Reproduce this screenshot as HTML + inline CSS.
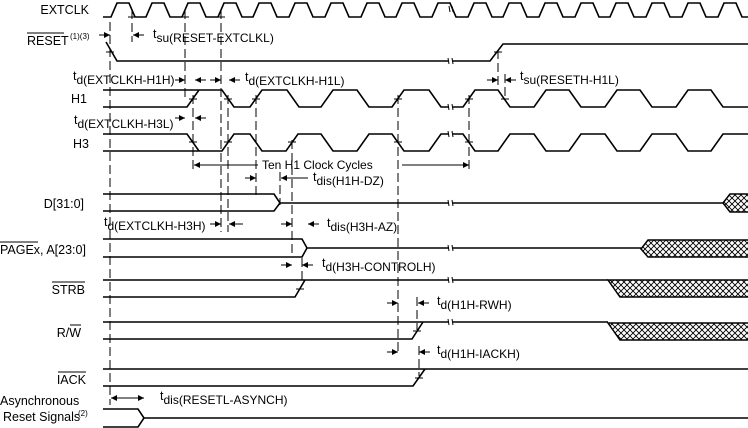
<!DOCTYPE html>
<html><head><meta charset="utf-8"><style>
html,body{margin:0;padding:0;background:#fff;}
svg{display:block;font-family:"Liberation Sans",Arial,sans-serif;}
</style></head><body>
<svg width="748" height="428" viewBox="0 0 748 428" xmlns="http://www.w3.org/2000/svg">
<defs>
<pattern id="hx" width="6" height="6" patternUnits="userSpaceOnUse">
<rect width="6" height="6" fill="#fff"/>
<path d="M0,0 L6,6 M6,0 L0,6" stroke="#000" stroke-width="0.9"/>
</pattern>
<marker id="ah" markerWidth="6" markerHeight="6" refX="6" refY="3" orient="auto" markerUnits="userSpaceOnUse">
<path d="M0,0 L6,3 L0,6 z" fill="#000"/>
</marker>
</defs>

<g stroke="#000" stroke-width="1" stroke-dasharray="9,4" fill="none">
<line x1="110" y1="22" x2="110" y2="405"/>
<line x1="132" y1="10" x2="132" y2="42"/>
<line x1="185" y1="10" x2="185" y2="100"/>
<line x1="193" y1="95" x2="193" y2="172"/>
<line x1="221" y1="10" x2="221" y2="232"/>
<line x1="228" y1="95" x2="228" y2="232"/>
<line x1="256" y1="95" x2="256" y2="198"/>
<line x1="280" y1="172" x2="280" y2="205"/>
<line x1="292" y1="140" x2="292" y2="255"/>
<line x1="302" y1="258" x2="302" y2="280"/>
<line x1="398" y1="95" x2="398" y2="355"/>
<line x1="417" y1="297" x2="417" y2="330"/>
<line x1="419" y1="346" x2="419" y2="376"/>
<line x1="469" y1="95" x2="469" y2="172"/>
<line x1="498" y1="50" x2="498" y2="86"/>
<line x1="505" y1="74" x2="505" y2="100"/>
</g>

<g stroke="#000" stroke-width="1.5">
<polygon points="723,203 730,194 749,194 749,212 730,212" fill="url(#hx)"/>
<polygon points="641,249 648,240 749,240 749,257 648,257" fill="url(#hx)"/>
<polygon points="608,280 749,280 749,297 620,297" fill="url(#hx)"/>
<polygon points="608,323 749,323 749,340 620,340" fill="url(#hx)"/>
</g>

<g stroke="#000" stroke-width="1.6" fill="none" stroke-linejoin="miter">
<path d="M103,17 L111,17 L117,3 L129,3 L135,17 L146,17 L152,3 L164,3 L170,17 L182,17 L188,3 L200,3 L206,17 L218,17 L224,3 L236,3 L242,17 L253,17 L259,3 L271,3 L277,17 L289,17 L295,3 L307,3 L313,17 L325,17 L331,3 L343,3 L349,17 L361,17 L367,3 L379,3 L385,17 L396,17 L402,3 L414,3 L420,17 L432,17 L438,3 L450,3 L456,17 L468,17 L474,3 L486,3 L492,17 L503,17 L509,3 L521,3 L527,17 L539,17 L545,3 L557,3 L563,17 L575,17 L581,3 L593,3 L599,17 L610,17 L616,3 L628,3 L634,17 L646,17 L652,3 L664,3 L670,17 L682,17 L688,3 L700,3 L706,17 L718,17 L724,3 L736,3 L742,17 L748,17"/>
<path d="M106,42 L117,61 L490,61 L503,44 L748,44"/>
<path d="M103,90 L222,90 L234,107 L250,107 L262,90 L287,90 L299,107 L321,107 L333,90 L357,90 L369,107 L392,107 L404,90 L429,90 L441,107 L463,107 L475,90 L498,90 L510,107 L534,107 L546,90 L569,90 L581,107 L605,107 L617,90 L640,90 L652,107 L676,107 L688,90 L711,90 L723,107 L748,107"/>
<path d="M103,107 L187,107 L199,90"/>
<path d="M103,134 L187,134 L199,151"/>
<path d="M103,151 L222,151 L234,134 L250,134 L262,151 L286,151 L298,134 L321,134 L333,151 L357,151 L369,134 L392,134 L404,151 L429,151 L441,134 L463,134 L475,151 L498,151 L510,134 L534,134 L546,151 L569,151 L581,134 L605,134 L617,151 L640,151 L652,134 L676,134 L688,151 L711,151 L723,134 L748,134"/>
<path d="M103,194 L274,194 L280,203 L274,211 L103,211 M280,203 L723,203"/>
<path d="M103,239 L302,239 L307,248 L302,257 L103,257 M307,248 L641,248"/>
<path d="M103,280 L608,280 M103,297 L295,297 L305,280"/>
<path d="M103,322 L608,322 M103,339 L412,339 L423,322"/>
<path d="M103,369 L748,369 M103,386 L413,386 L425,369"/>
<path d="M103,409 L138,409 L144,418 L138,427 L103,427 M144,418 L748,418"/>
</g>

<g stroke="#000" stroke-width="1" fill="none">
<rect x="449" y="56" width="4" height="10" fill="#fff" stroke="none"/>
<rect x="449" y="102" width="4" height="10" fill="#fff" stroke="none"/>
<rect x="449" y="129" width="4" height="10" fill="#fff" stroke="none"/>
<rect x="449" y="198" width="4" height="10" fill="#fff" stroke="none"/>
<rect x="449" y="243" width="4" height="10" fill="#fff" stroke="none"/>
<rect x="449" y="275" width="4" height="10" fill="#fff" stroke="none"/>
<rect x="449" y="317" width="4" height="10" fill="#fff" stroke="none"/>
<path d="M448,58 l1,6 M452,58 l1,6 M448,104 l1,6 M452,104 l1,6 M448,131 l1,6 M452,131 l1,6 M448,200 l1,6 M452,200 l1,6 M448,245 l1,6 M452,245 l1,6 M448,277 l1,6 M452,277 l1,6 M448,319 l1,6 M452,319 l1,6 M449,6 l1,6 M452,6 l1,6"/>
</g>

<g stroke="#000" stroke-width="1">
<path d="M106,52 h8 M128,17 h8 M181,17 h8 M217,17 h8 M189,99 h8 M224,99 h8 M252,99 h8 M394,99 h8 M465,99 h8 M189,142 h8 M224,142 h8 M288,142 h8 M394,142 h8 M465,142 h8 M494,52 h8 M501,99 h8 M296,289 h8 M413,331 h8 M415,378 h8"/>
</g>

<g stroke="#000" stroke-width="1" marker-end="url(#ah)">
<line x1="99" y1="35" x2="110" y2="35"/>
<line x1="144" y1="35" x2="133" y2="35"/>
<line x1="175" y1="80" x2="185" y2="80"/>
<line x1="206" y1="80" x2="195" y2="80"/>
<line x1="210" y1="80" x2="221" y2="80"/>
<line x1="240" y1="80" x2="229" y2="80"/>
<line x1="175" y1="118" x2="185" y2="118"/>
<line x1="206" y1="118" x2="195" y2="118"/>
<line x1="487" y1="80" x2="498" y2="80"/>
<line x1="516" y1="80" x2="505" y2="80"/>
<line x1="258" y1="165" x2="194" y2="165"/>
<line x1="402" y1="165" x2="469" y2="165"/>
<line x1="245" y1="178" x2="256" y2="178"/>
<line x1="308" y1="178" x2="281" y2="178"/>
<line x1="210" y1="224" x2="221" y2="224"/>
<line x1="243" y1="224" x2="229" y2="224"/>
<line x1="281" y1="224" x2="292" y2="224"/>
<line x1="319" y1="224" x2="308" y2="224"/>
<line x1="281" y1="265" x2="292" y2="265"/>
<line x1="313" y1="265" x2="302" y2="265"/>
<line x1="387" y1="303" x2="398" y2="303"/>
<line x1="429" y1="303" x2="418" y2="303"/>
<line x1="387" y1="352" x2="398" y2="352"/>
<line x1="430" y1="352" x2="419" y2="352"/>
<line x1="128" y1="398" x2="111" y2="398"/>
<line x1="127" y1="398" x2="144" y2="398"/>
</g>

<g font-size="12.5" fill="#000">
<text x="89" y="14" text-anchor="end">EXTCLK</text>
<text x="27" y="45">RESET</text>
<line x1="27" y1="33" x2="64" y2="33" stroke="#000" stroke-width="1"/>
<text x="70" y="39" font-size="8">(1)(3)</text>
<text x="87" y="103" text-anchor="end">H1</text>
<text x="89" y="148" text-anchor="end">H3</text>
<text x="84" y="208" text-anchor="end">D[31:0]</text>
<text x="0" y="254">PAGEx, A[23:0]</text>
<line x1="0" y1="242" x2="38" y2="242" stroke="#000" stroke-width="1"/>
<text x="85" y="294" text-anchor="end">STRB</text>
<line x1="52" y1="282" x2="85" y2="282" stroke="#000" stroke-width="1"/>
<text x="81" y="337" text-anchor="end">R/W</text>
<line x1="70" y1="325" x2="81" y2="325" stroke="#000" stroke-width="1"/>
<text x="86" y="384" text-anchor="end">IACK</text>
<line x1="58" y1="372" x2="86" y2="372" stroke="#000" stroke-width="1"/>
<text x="0" y="405">Asynchronous</text>
<text x="3" y="421">Reset Signals</text>
<text x="78" y="416" font-size="8">(2)</text>
</g>

<g font-size="12.5" fill="#000">
<text x="153" y="38">t<tspan dy="4" font-size="12">su(RESET-EXTCLKL)</tspan></text>
<text x="73" y="80">t<tspan dy="4" font-size="12">d(EXTCLKH-H1H)</tspan></text>
<text x="245" y="81">t<tspan dy="4" font-size="12">d(EXTCLKH-H1L)</tspan></text>
<text x="74" y="124">t<tspan dy="4" font-size="12">d(EXTCLKH-H3L)</tspan></text>
<text x="520" y="80">t<tspan dy="4" font-size="12">su(RESETH-H1L)</tspan></text>
<text x="262" y="169" font-size="12">Ten H1 Clock Cycles</text>
<text x="313" y="181">t<tspan dy="4" font-size="12">dis(H1H-DZ)</tspan></text>
<text x="104" y="226">t<tspan dy="4" font-size="12">d(EXTCLKH-H3H)</tspan></text>
<text x="327" y="227">t<tspan dy="4" font-size="12">dis(H3H-AZ)</tspan></text>
<text x="322" y="267">t<tspan dy="4" font-size="12">d(H3H-CONTROLH)</tspan></text>
<text x="437" y="305">t<tspan dy="4" font-size="12">d(H1H-RWH)</tspan></text>
<text x="437" y="354">t<tspan dy="4" font-size="12">d(H1H-IACKH)</tspan></text>
<text x="160" y="400">t<tspan dy="4" font-size="12">dis(RESETL-ASYNCH)</tspan></text>
</g>
</svg>
</body></html>
